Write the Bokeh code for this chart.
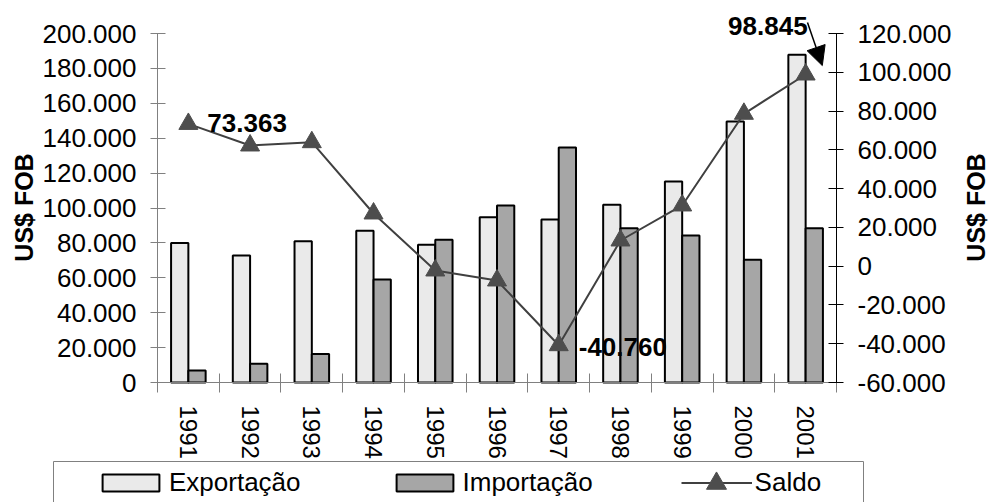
import math

from bokeh.embed import file_html
from bokeh.models import (Arrow, BoxAnnotation, ColumnDataSource, FixedTicker, Label,
                          Legend, LegendItem, LinearAxis, NormalHead, Range1d)
from bokeh.plotting import figure
from bokeh.resources import INLINE
from bokeh.transform import dodge

# ---- data (US$ FOB) ----
years = ["1991", "1992", "1993", "1994", "1995", "1996",
         "1997", "1998", "1999", "2000", "2001"]
exportacao = [80000, 72800, 81000, 87000, 79000, 94700,
              93400, 101800, 115200, 149600, 187800]
importacao = [6900, 10700, 16400, 59000, 81800, 101400,
              134700, 88400, 84200, 70300, 88400]
saldo = [73363, 62240, 63940, 27170, -2230, -7390,
         -40760, 13240, 31300, 78590, 98845]
left_ticks = list(range(0, 200001, 20000))
right_ticks = list(range(-60000, 120001, 20000))


def fmt(v):
    return f"{v:,}".replace(",", ".")


# ---- layout: the plotting area sits inside the canvas, axes are pinned to it ----
W, H = 990, 502
BL, BR, BT, BB = 157, 154, 33, 120          # space around the bar area
FONT = "Liberation Sans"
GRAY = "#808080"

n = len(years)
unit_x = (W - BL - BR) / n
area_h = H - BT - BB


def padded(lo, hi):
    per = (hi - lo) / area_h
    return lo - BB * per, hi + BT * per


xs = [i + 0.5 for i in range(n)]
src = ColumnDataSource(dict(x=xs, exp=exportacao, imp=importacao, saldo=saldo))

p = figure(width=W, height=H, output_backend="svg", toolbar_location=None,
           x_range=Range1d(-BL / unit_x, n + BR / unit_x),
           y_range=Range1d(*padded(left_ticks[0], left_ticks[-1])),
           min_border=0, min_border_left=0, min_border_right=0,
           min_border_top=0, min_border_bottom=0)
p.extra_y_ranges = {"saldo": Range1d(*padded(right_ticks[0], right_ticks[-1]))}
p.grid.visible = False
p.outline_line_color = None
p.background_fill_color = "white"
p.border_fill_color = "white"

# bars
exp_r = p.vbar(x=dodge("x", -0.14, range=p.x_range), top="exp", width=0.28, source=src,
               fill_color="#eaeaea", line_color="black", line_width=2)
imp_r = p.vbar(x=dodge("x", 0.14, range=p.x_range), top="imp", width=0.28, source=src,
               fill_color="#a6a6a6", line_color="black", line_width=2)

# balance line
line_r = p.line("x", "saldo", source=src, y_range_name="saldo",
                line_color="#404040", line_width=2)
pts_r = p.scatter("x", "saldo", source=src, y_range_name="saldo", marker="triangle",
                  size=19, fill_color="#4d4d4d", line_color="#4d4d4d")

# ---- axes ----
xa = p.xaxis[0]
xa.fixed_location = 0
xa.bounds = (0, n)
xa.ticker = FixedTicker(ticks=xs, minor_ticks=list(range(n + 1)))
xa.major_label_overrides = {x: y for x, y in zip(xs, years)}
xa.major_label_orientation = -math.pi / 2
xa.major_tick_line_color = None
xa.major_tick_in = 0
xa.major_tick_out = 10
xa.minor_tick_in = 9
xa.minor_tick_out = 10
xa.minor_tick_line_color = GRAY
xa.axis_line_color = GRAY
xa.major_label_standoff = 13
xa.major_label_text_font = FONT
xa.major_label_text_font_size = "24px"
xa.major_label_text_color = "black"

ya = p.yaxis[0]
ya.fixed_location = 0
ya.bounds = (left_ticks[0], left_ticks[-1])
ya.ticker = FixedTicker(ticks=left_ticks)
ya.major_label_overrides = {t: fmt(t) for t in left_ticks}
ya.axis_line_color = GRAY
ya.major_tick_line_color = GRAY
ya.major_tick_in = 8
ya.major_tick_out = 7
ya.minor_tick_line_color = None
ya.major_label_standoff = 14
ya.major_label_text_font = FONT
ya.major_label_text_font_size = "26px"
ya.major_label_text_color = "black"

yr = LinearAxis(y_range_name="saldo", fixed_location=n,
                bounds=(right_ticks[0], right_ticks[-1]),
                ticker=FixedTicker(ticks=right_ticks),
                major_label_overrides={t: fmt(t) for t in right_ticks},
                axis_line_color="black", major_tick_line_color="black",
                major_tick_in=8, major_tick_out=7, minor_tick_line_color=None,
                major_label_standoff=14, major_label_text_font=FONT,
                major_label_text_font_size="26px", major_label_text_color="black")
p.add_layout(yr, "right")

# axis titles
for xpos in (23, 975):
    p.add_layout(Label(x=xpos, y=H - 207, x_units="screen", y_units="screen",
                       text="US$ FOB", angle=math.pi / 2, text_align="center",
                       text_baseline="middle", text_font=FONT, text_font_size="25px",
                       text_font_style="bold", text_color="black"))

# value labels on the balance line
label_style = dict(y_range_name="saldo", text_font=FONT, text_font_size="26px",
                   text_font_style="bold", text_color="black", text_baseline="middle")
p.add_layout(Label(x=xs[0], y=saldo[0], text=fmt(saldo[0]), x_offset=19, y_offset=1,
                   text_align="left", **label_style))
p.add_layout(Label(x=xs[6], y=saldo[6], text=fmt(saldo[6]), x_offset=20, y_offset=-2,
                   text_align="left", **label_style))
p.add_layout(Label(x=xs[10], y=saldo[10], text=fmt(saldo[10]), x_offset=2, y_offset=49,
                   text_align="right", **label_style))
p.add_layout(Arrow(end=NormalHead(size=19, fill_color="black", line_color="black"),
                   x_start=xs[10] + 0.03, y_start=saldo[10] + 26800,
                   x_end=xs[10] + 0.27, y_end=saldo[10] + 4600,
                   y_range_name="saldo", line_color="black", line_width=1.5))

# ---- legend ----
p.add_layout(BoxAnnotation(left=53, right=863, top=H - 461, bottom=-50,
                           left_units="screen", right_units="screen",
                           top_units="screen", bottom_units="screen",
                           fill_alpha=0, line_color=GRAY, line_width=1, line_alpha=1))

legend_style = dict(orientation="horizontal", padding=0, margin=0, border_line_color=None,
                    background_fill_alpha=0, label_text_font=FONT,
                    label_text_font_size="26px", label_text_color="black")
leg = Legend(items=[LegendItem(label="Exportação", renderers=[exp_r]),
                    LegendItem(label="Importação", renderers=[imp_r]),
                    LegendItem(label="Saldo", renderers=[line_r])],
             location=(95, H - 498), glyph_width=71, glyph_height=21,
             label_standoff=3, spacing=88, **legend_style)
p.add_layout(leg)
# larger marker drawn over the middle of the "Saldo" legend line
leg2 = Legend(items=[LegendItem(label=" ", renderers=[pts_r])],
              location=(691, H - 508), glyph_width=50, glyph_height=50,
              label_standoff=0, label_width=0, label_text_alpha=0, **legend_style)
p.add_layout(leg2)

open("out.html", "w").write(file_html(p, INLINE))
